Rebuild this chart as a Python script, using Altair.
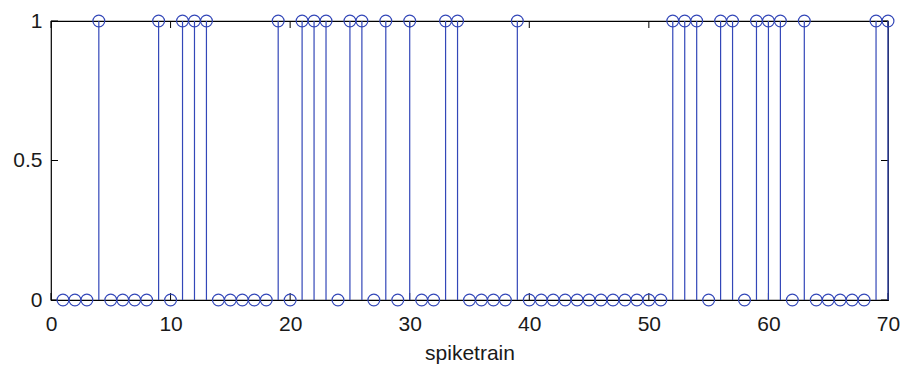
import altair as alt
import pandas as pd

# spike train values at t = 1..70
t_values = list(range(1, 71))
spike_times = [4, 9, 11, 12, 13, 19, 21, 22, 23, 25, 26, 28, 30, 33, 34, 39,
               52, 53, 54, 56, 57, 59, 60, 61, 63, 69, 70]
spikes = [1 if t in spike_times else 0 for t in t_values]

x_ticks = [0, 10, 20, 30, 40, 50, 60, 70]
y_ticks = [0, 0.5, 1]
x_label = "spiketrain"

W, H = 837, 279
BLUE = "#3347b8"
FONT = "Liberation Sans"
TL = 7  # inner tick length

df = pd.DataFrame({"t": t_values, "v": spikes})
xt = pd.DataFrame({"t": x_ticks})
yt = pd.DataFrame({"v": y_ticks})

xscale = alt.Scale(domain=[0, 70], nice=False, zero=False)
yscale = alt.Scale(domain=[0, 1], nice=False)

x_enc = alt.X("t:Q", scale=xscale,
              axis=alt.Axis(values=x_ticks, format="d", title=x_label, ticks=False,
                            grid=False, domain=False, labelPadding=13, titlePadding=8,
                            labelFlush=False, labelOverlap=False,
                            labelFont=FONT, labelFontSize=21, titleFont=FONT,
                            titleFontSize=21, titleFontWeight="normal",
                            labelColor="#1a1a1a", titleColor="#1a1a1a"))
y_enc = alt.Y("v:Q", scale=yscale,
              axis=alt.Axis(values=y_ticks, format="~g", title=None, ticks=False,
                            grid=False, domain=False, labelPadding=9,
                            labelFlush=False, labelOverlap=False,
                            labelFont=FONT, labelFontSize=21, labelColor="#1a1a1a"))

stems = alt.Chart(df).mark_rule(color=BLUE, strokeWidth=1.2).encode(
    x=x_enc, y=y_enc, y2=alt.datum(0))
heads = alt.Chart(df).mark_point(shape="circle", filled=False, size=140,
                                 color=BLUE, strokeWidth=1.2, opacity=1).encode(
    x=alt.X("t:Q", scale=xscale), y=alt.Y("v:Q", scale=yscale))

tick_style = dict(color="black", strokeWidth=1)
bottom_ticks = alt.Chart(xt).mark_rule(**tick_style).encode(
    x=alt.X("t:Q", scale=xscale), y=alt.value(H), y2=alt.value(H - TL))
top_ticks = alt.Chart(xt).mark_rule(**tick_style).encode(
    x=alt.X("t:Q", scale=xscale), y=alt.value(0), y2=alt.value(TL))
left_ticks = alt.Chart(yt).mark_rule(**tick_style).encode(
    y=alt.Y("v:Q", scale=yscale), x=alt.value(0), x2=alt.value(TL))
right_ticks = alt.Chart(yt).mark_rule(**tick_style).encode(
    y=alt.Y("v:Q", scale=yscale), x=alt.value(W - TL), x2=alt.value(W))

chart = alt.layer(bottom_ticks, top_ticks, left_ticks, right_ticks, stems, heads).properties(
    width=W, height=H,
    autosize=alt.AutoSizeParams(type="none"),
    padding={"left": 51, "top": 21, "right": 14, "bottom": 72},
    background="white",
).configure_view(stroke="black", strokeWidth=1.2)

chart.save("out.html", embed_options={"renderer": "svg", "actions": False})
